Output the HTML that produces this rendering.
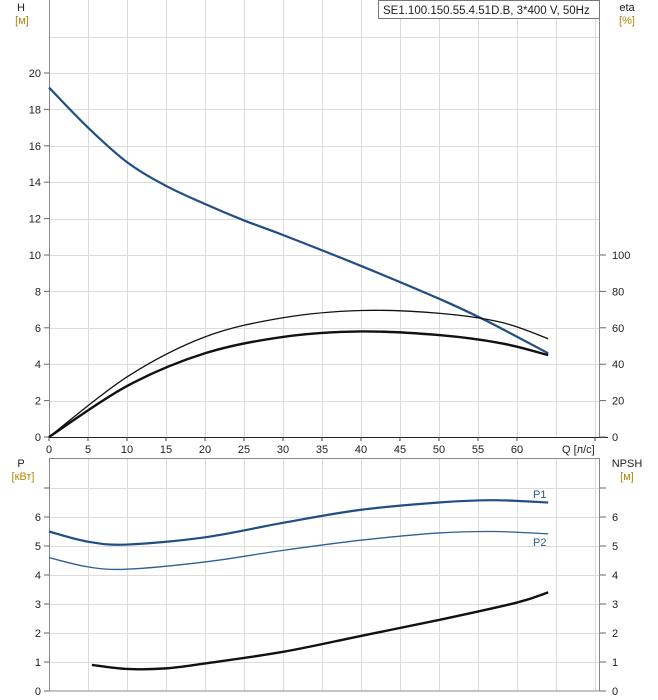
<!DOCTYPE html>
<html><head><meta charset="utf-8"><style>
body{margin:0;background:#fff;}
svg{display:block;font-family:"Liberation Sans",sans-serif;}
</style></head><body>
<svg id="s" width="658" height="700" viewBox="0 0 658 700" xmlns="http://www.w3.org/2000/svg">
<g id="grid" stroke="#dcdcdc" stroke-width="1"></g>
<g id="axes"></g>
<g id="curves" fill="none"></g>
<rect x="378.5" y="0.5" width="221" height="18" fill="#fff" stroke="#777"/>
<text x="383" y="14" font-size="11.5" fill="#222">SE1.100.150.55.4.51D.B, 3*400 V, 50Hz</text>
<text x="21" y="11" font-size="11" fill="#222" text-anchor="middle">H</text>
<text x="22" y="24" font-size="11" fill="#b8860b" text-anchor="middle">[м]</text>
<text x="627" y="11" font-size="11" fill="#222" text-anchor="middle">eta</text>
<text x="627" y="24" font-size="11" fill="#b8860b" text-anchor="middle">[%]</text>
<text x="21" y="467" font-size="11" fill="#222" text-anchor="middle">P</text>
<text x="23" y="480" font-size="11" fill="#b8860b" text-anchor="middle">[кВт]</text>
<text x="627" y="467" font-size="11" fill="#222" text-anchor="middle">NPSH</text>
<text x="627" y="480" font-size="11" fill="#b8860b" text-anchor="middle">[м]</text>
<text x="562" y="453" font-size="11" fill="#222">Q [л/с]</text>
<text x="533" y="498" font-size="11" fill="#2a5a8a">P1</text>
<text x="533" y="546" font-size="11" fill="#2a5a8a">P2</text>
</svg>
<script>
const NS="http://www.w3.org/2000/svg";
const g=document.getElementById('grid'),ax=document.getElementById('axes'),cv=document.getElementById('curves');
function el(p,t,a,txt){const e=document.createElementNS(NS,t);for(const k in a)e.setAttribute(k,a[k]);if(txt!==undefined)e.textContent=txt;p.appendChild(e);return e;}
const X=q=>49+q*7.8;
const TH=h=>437-h*18.2;
const BP=p=>691-p*29;
for(let q=5;q<=70;q+=5){el(g,'line',{x1:X(q)+.5,y1:0,x2:X(q)+.5,y2:437});el(g,'line',{x1:X(q)+.5,y1:458,x2:X(q)+.5,y2:691});}
for(let h=2;h<=22;h+=2){el(g,'line',{x1:49,y1:Math.round(TH(h))+.5,x2:599,y2:Math.round(TH(h))+.5});}
for(let p=1;p<=7;p++){el(g,'line',{x1:49,y1:Math.round(BP(p))+.5,x2:599,y2:Math.round(BP(p))+.5});}
el(ax,'line',{x1:49.5,y1:0,x2:49.5,y2:437,stroke:'#888'});
el(ax,'line',{x1:599.5,y1:0,x2:599.5,y2:437,stroke:'#888'});
el(ax,'line',{x1:49,y1:437.5,x2:608,y2:437.5,stroke:'#222'});
el(ax,'rect',{x:49.5,y:458.5,width:550,height:232.5,fill:'none',stroke:'#888'});
for(let h=0;h<=20;h+=2){const y=TH(h);el(ax,'line',{x1:44,y1:y,x2:49,y2:y,stroke:'#666'});el(ax,'text',{x:41,y:y+4,'font-size':11,'text-anchor':'end',fill:'#222'},h);}
for(let e=0;e<=100;e+=20){const y=TH(e/10);el(ax,'line',{x1:600,y1:y,x2:606,y2:y,stroke:'#666'});el(ax,'text',{x:612,y:y+4,'font-size':11,fill:'#222'},e);}
for(let q=0;q<=60;q+=5){el(ax,'text',{x:X(q),y:453,'font-size':11,'text-anchor':'middle',fill:'#222'},q);el(ax,'line',{x1:X(q),y1:437,x2:X(q),y2:441,stroke:'#444'});}
el(ax,'line',{x1:X(70),y1:437,x2:X(70),y2:441,stroke:'#444'});
for(let p=0;p<=7;p++){const y=BP(p);el(ax,'line',{x1:44,y1:y,x2:49,y2:y,stroke:'#666'});el(ax,'line',{x1:600,y1:y,x2:606,y2:y,stroke:'#666'});if(p<7){el(ax,'text',{x:41,y:y+4,'font-size':11,'text-anchor':'end',fill:'#222'},p);el(ax,'text',{x:612,y:y+4,'font-size':11,fill:'#222'},p);}}
function path(pts){let d='M'+pts[0][0]+','+pts[0][1];for(let i=0;i<pts.length-1;i++){const p0=pts[i-1]||pts[i],p1=pts[i],p2=pts[i+1],p3=pts[i+2]||p2;
d+=' C'+(p1[0]+(p2[0]-p0[0])/6)+','+(p1[1]+(p2[1]-p0[1])/6)+' '+(p2[0]-(p3[0]-p1[0])/6)+','+(p2[1]-(p3[1]-p1[1])/6)+' '+p2[0]+','+p2[1];}return d;}
function curve(data,fy,col,w){el(cv,'path',{d:path(data.map(a=>[X(a[0]),fy(a[1])])),stroke:col,'stroke-width':w});}
curve([[0,19.2],[5,17],[10,15.1],[15,13.8],[20,12.8],[25,11.9],[30,11.1],[40,9.4],[50,7.6],[56,6.4],[64,4.6]],TH,'#1f4e85',2.2);
const E=v=>TH(v/10);
curve([[0,0],[10,33],[20,55],[30,65.5],[40,69.5],[50,68],[58,63],[64,54]],E,'#111',1.3);
curve([[0,0],[10,28],[20,46],[30,55],[40,58],[50,56],[58,51.5],[64,45]],E,'#111',2.4);
curve([[0,5.5],[5,5.15],[10,5.05],[20,5.3],[30,5.8],[40,6.25],[50,6.5],[57,6.58],[64,6.5]],BP,'#1f4e85',2.2);
curve([[0,4.6],[5,4.28],[10,4.2],[20,4.45],[30,4.85],[40,5.2],[50,5.45],[57,5.5],[64,5.42]],BP,'#2d5f96',1.3);
curve([[5.5,0.9],[10,0.76],[15,0.78],[20,0.95],[30,1.35],[40,1.9],[50,2.45],[60,3.05],[64,3.4]],BP,'#111',2.4);
</script>
</body></html>
